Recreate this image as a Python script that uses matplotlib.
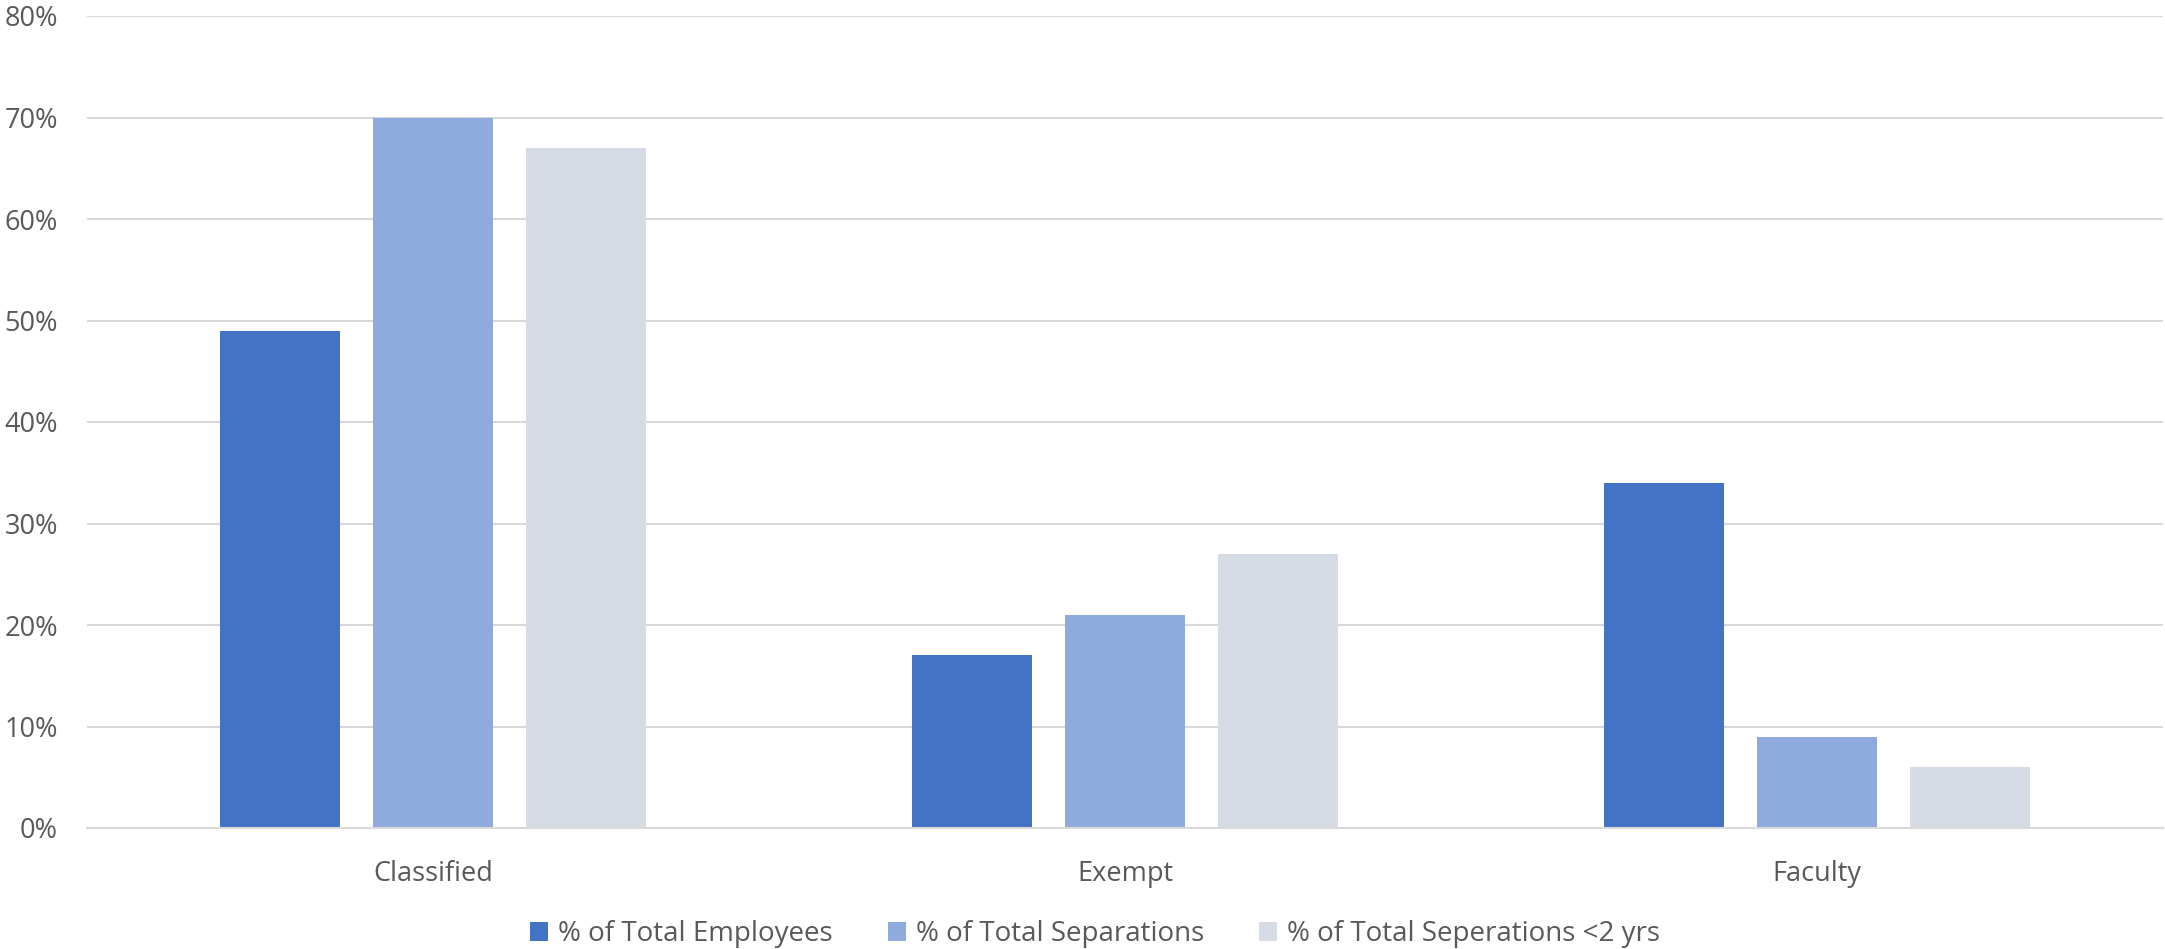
import matplotlib
matplotlib.use("Agg")
import matplotlib.pyplot as plt
import numpy as np
from matplotlib.ticker import FuncFormatter

categories = ["Classified", "Exempt", "Faculty"]
series_names = ["% of Total Employees", "% of Total Separations", "% of Total Seperations <2 yrs"]
employees = [49, 17, 34]
separations = [70, 21, 9]
separations_lt2 = [67, 27, 6]
colors = ["#4472C4", "#8FAADC", "#D6DCE5"]
y_ticks = [0, 10, 20, 30, 40, 50, 60, 70, 80]

plt.rcParams['font.family'] = ['Open Sans', 'DejaVu Sans']
text_color = "#595959"

fig = plt.figure(figsize=(21.65, 9.49), dpi=100)
ax = fig.add_axes([87/2165, 1 - 828/949, (2163 - 87)/2165, (828 - 16)/949])

x = np.arange(len(categories))
width = 0.1733
offset = 0.221
handles = []
for i, (vals, name) in enumerate(zip([employees, separations, separations_lt2], series_names)):
    h = ax.bar(x + (i - 1) * offset, vals, width=width, color=colors[i], label=name, zorder=3)
    handles.append(h)

ax.set_xlim(-0.5, len(categories) - 0.5)
ax.set_ylim(0, 80)
ax.set_yticks(y_ticks)
ax.yaxis.set_major_formatter(FuncFormatter(lambda v, p: f"{int(v)}%"))
ax.set_xticks(x)
ax.set_xticklabels(categories)
ax.grid(axis='y', color="#D9D9D9", linewidth=1.5, zorder=0)
ax.set_axisbelow(True)
for s in ["top", "right", "left"]:
    ax.spines[s].set_visible(False)
ax.spines["bottom"].set_color("#D9D9D9")
ax.spines["bottom"].set_linewidth(1.5)
ax.spines["bottom"].set_zorder(4)
ax.tick_params(axis='both', length=0, labelsize=19.5, colors=text_color)
ax.tick_params(axis='y', pad=21)
ax.tick_params(axis='x', pad=23)

leg = fig.legend(handles=handles, labels=series_names, loc='center', bbox_to_anchor=(1095/2165, 1 - 934/949),
                 ncol=3, frameon=False, fontsize=20, handlelength=0.65, handleheight=0.65,
                 handletextpad=0.35, columnspacing=2.0, labelcolor=text_color)

fig.savefig("out.png", dpi=100, facecolor="white")
